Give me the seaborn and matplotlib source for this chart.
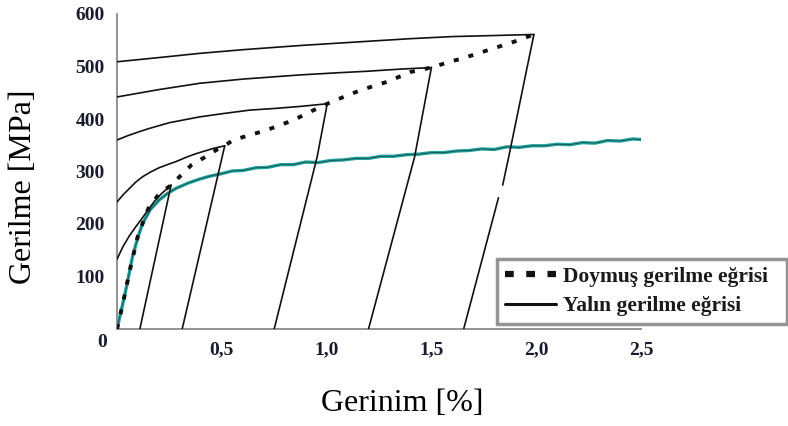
import seaborn as sns
import pandas as pd
import matplotlib
matplotlib.use("Agg")
import matplotlib.pyplot as plt
from matplotlib.lines import Line2D

mono_x = [0, 0.02, 0.042, 0.074, 0.1, 0.122, 0.16, 0.202, 0.24, 0.282, 0.34, 0.39,
          0.442, 0.5, 0.55, 0.602, 0.66, 0.72, 0.78, 0.84, 0.9, 0.96, 1.02, 1.08,
          1.14, 1.2, 1.26, 1.32, 1.38, 1.44, 1.5, 1.56, 1.62, 1.68, 1.74, 1.8,
          1.86, 1.92, 1.98, 2.04, 2.1, 2.16, 2.22, 2.28, 2.34, 2.4, 2.46, 2.5]
mono_y = [0, 35, 74, 138, 175, 201, 228, 246, 258, 268, 278, 285,
          291, 296, 301, 302, 307, 308, 313, 313, 318, 317, 321, 322,
          325, 325, 329, 329, 332, 333, 336, 336, 339, 340, 343, 342,
          347, 346, 349, 349, 352, 351, 355, 354, 359, 358, 362, 361]

# saturated stress curve (dotted), passes through the unloading peaks
sat_x = [0, 0.03, 0.06, 0.1, 0.15, 0.2, 0.258, 0.306, 0.354, 0.418, 0.474, 0.514,
         0.554, 0.715, 0.843, 0.923, 1.003, 1.05, 1.163, 1.29, 1.404, 1.5,
         1.564, 1.676, 1.8, 1.893, 1.989]
sat_y = [0, 52, 110, 178, 230, 257, 274, 293, 312, 327, 341, 349,
         360, 379, 398, 414, 429, 437, 455, 471, 490, 498,
         506, 519, 535, 547, 561]

# reloading curves (start at x=0, end at a peak)
reload_x = [
    [0, 0.03, 0.06, 0.09, 0.12, 0.15, 0.18, 0.21, 0.235, 0.258],
    [0, 0.03, 0.06, 0.09, 0.122, 0.16, 0.2, 0.24, 0.282, 0.33, 0.37, 0.41, 0.46, 0.514],
    [0, 0.05, 0.1, 0.154, 0.25, 0.394, 0.5, 0.635, 0.75, 0.875, 1.003],
    [0, 0.1, 0.2, 0.394, 0.6, 0.875, 1.05, 1.196, 1.35, 1.5],
    [0, 0.2, 0.394, 0.6, 0.875, 1.196, 1.4, 1.6, 1.8, 1.989],
]
reload_y = [
    [133, 158, 178, 195, 211, 228, 244, 257, 266, 274],
    [242, 256, 268, 280, 290, 299, 307, 313, 319, 327, 333, 338, 344, 349],
    [360, 368, 375, 382, 393, 404, 410, 417, 420, 424, 429],
    [442, 449, 456, 468, 476, 484, 488, 491, 495, 498],
    [509, 517, 525, 532, 540, 548, 553, 557, 559, 561],
]

# unloading lines (peak -> x-axis); the last one is broken in two pieces
unload_x = [
    [0.258, 0.184, 0.109],
    [0.514, 0.41, 0.311],
    [1.003, 0.955, 0.75],
    [1.5, 1.42, 1.2],
    [1.989, 1.869, 1.84],
    [1.82, 1.654],
]
unload_y = [
    [274, 138, 0],
    [349, 170, 0],
    [429, 328, 0],
    [498, 328, 0],
    [561, 328, 274],
    [250, 0],
]

xticks = [0.5, 1.0, 1.5, 2.0, 2.5]
xtick_labels = ["0,5", "1,0", "1,5", "2,0", "2,5"]
yticks = [100, 200, 300, 400, 500, 600]

sns.set_style("white")
plt.rcParams["font.family"] = ["Liberation Serif", "DejaVu Serif"]

fig = plt.figure(figsize=(7.88, 4.26), dpi=100)
ax = fig.add_axes([117 / 788, 97 / 426, 524 / 788, 315 / 426])

black = "#111111"
teal = "#1fa39e"

df_mono = pd.DataFrame({"x": mono_x, "y": mono_y})
sns.lineplot(data=df_mono, x="x", y="y", sort=False, estimator=None,
             color=teal, linewidth=2.4, ax=ax, zorder=3)
sns.lineplot(data=df_mono, x="x", y="y", sort=False, estimator=None,
             color="#1d3b38", linewidth=0.6, alpha=0.8, ax=ax, zorder=4)

for xs, ys in zip(reload_x, reload_y):
    d = pd.DataFrame({"x": xs, "y": ys})
    sns.lineplot(data=d, x="x", y="y", sort=False, estimator=None,
                 color=black, linewidth=1.2, ax=ax, zorder=5)

for xs, ys in zip(unload_x, unload_y):
    d = pd.DataFrame({"x": xs, "y": ys})
    sns.lineplot(data=d, x="x", y="y", sort=False, estimator=None,
                 color=black, linewidth=1.2, ax=ax, zorder=5)

df_sat = pd.DataFrame({"x": sat_x, "y": sat_y})
sns.lineplot(data=df_sat, x="x", y="y", sort=False, estimator=None,
             color=black, linewidth=2.8, ax=ax, zorder=6,
             linestyle=(0, (1.3, 2.6)))

ax.set_xlim(0, 2.5)
ax.set_ylim(0, 600)
ax.set_xticks(xticks)
ax.set_xticklabels(xtick_labels)
ax.set_yticks(yticks)

for side in ["top", "right"]:
    ax.spines[side].set_visible(False)
for side in ["left", "bottom"]:
    ax.spines[side].set_color("#8a8a8a")
    ax.spines[side].set_linewidth(1.3)

lab_col = "#1a1a2e"
ax.tick_params(axis="both", direction="out", length=3, width=1, color="#8a8a8a",
               labelsize=14, labelcolor=lab_col, pad=6)
for t in ax.get_xticklabels() + ax.get_yticklabels():
    t.set_fontweight("bold")

# lone "0" in the corner
ax.annotate("0", xy=(0, 0), xytext=(-11, -9.5), textcoords="offset points",
            ha="center", va="center", fontsize=14, fontweight="bold",
            color=lab_col)

ax.set_xlabel("Gerinim [%]", fontsize=23, color="black")
ax.set_ylabel("Gerilme [MPa]", fontsize=23, color="black")
ax.xaxis.set_label_coords(0.544, -0.19)
ax.yaxis.set_label_coords(-0.15, 0.45)

handles = [
    Line2D([], [], color=black, linewidth=4.5, linestyle=(0, (1.4, 2.0))),
    Line2D([], [], color=black, linewidth=2.2),
]
labels = ["Doymuş gerilme eğrisi", "Yalın gerilme eğrisi"]
leg = ax.legend(handles, labels, loc="upper left",
                bbox_to_anchor=(497 / 788, 1 - 322 / 426, 290 / 788, 63 / 426),
                bbox_transform=fig.transFigure, mode="expand", borderaxespad=0,
                prop={"family": "Liberation Serif", "weight": "bold", "size": 15.5},
                handlelength=2.4, handletextpad=0.3, labelspacing=0.45,
                borderpad=0.35, fancybox=False, frameon=True)
leg.get_frame().set_edgecolor("#7a7a7a")
leg.get_frame().set_linewidth(2.5)
for t in leg.get_texts():
    t.set_color("#1a1a1a")

fig.savefig("out.png", dpi=100)
